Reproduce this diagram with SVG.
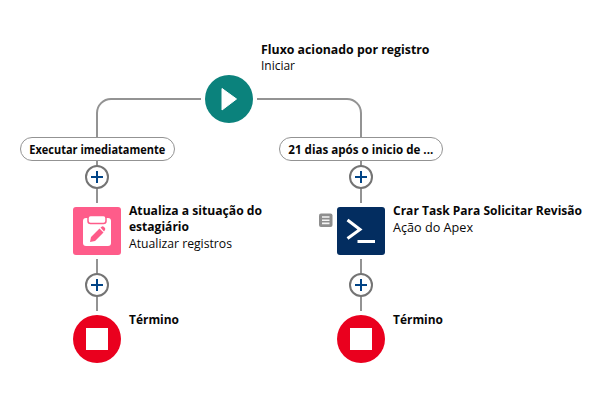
<svg xmlns="http://www.w3.org/2000/svg" width="613" height="406" viewBox="0 0 613 406">
<style>
text{font-family:"Open Sans","Noto Sans","Liberation Sans",sans-serif;font-size:12px;fill:#080707}
.b{font-weight:700}
.c{fill:none;stroke:#939393;stroke-width:2}
.pill{fill:#fff;stroke:#939393;stroke-width:1}
.plus{fill:#fff;stroke:#747474;stroke-width:2}
.pl{fill:none;stroke:#014486;stroke-width:2}
.end{fill:#ea001e}
</style>
<rect width="613" height="406" fill="#fff"/>
<g id="connectors">
<path class="c" d="M201 99H111A14 14 0 0 0 97 113V137"/>
<path class="c" d="M257 99H347A14 14 0 0 1 361 113V137"/>
<path class="c" d="M97 160V203"/>
<path class="c" d="M361 160V203"/>
<path class="c" d="M97 259V311"/>
<path class="c" d="M361 259V311"/>
</g>
<g id="start">
<circle cx="229" cy="99" r="24" fill="#0b827c"/>
<path d="M222 88.500L236.500 99L222 110Z" fill="#fff" stroke="#fff" stroke-width="1" stroke-linejoin="round"/>
<text class="b" x="261" y="54" textLength="168.500" lengthAdjust="spacingAndGlyphs">Fluxo acionado por registro</text>
<text x="261" y="70" textLength="34" lengthAdjust="spacingAndGlyphs">Iniciar</text>
</g>
<g id="pill-left">
<rect class="pill" x="20.500" y="137.500" width="154" height="23" rx="11.500"/>
<text class="b" x="29.300" y="153.500" textLength="136" lengthAdjust="spacingAndGlyphs">Executar imediatamente</text>
</g>
<g id="pill-right">
<rect class="pill" x="279.500" y="137.500" width="163" height="23" rx="11.500"/>
<text class="b" x="288.300" y="153.500" textLength="145" lengthAdjust="spacingAndGlyphs">21 dias após o inicio de ...</text>
</g>
<g id="add-1"><circle class="plus" cx="97" cy="177" r="11"/><path class="pl" d="M91 177H103M97 171V183"/></g>
<g id="add-2"><circle class="plus" cx="361" cy="177" r="11"/><path class="pl" d="M355 177H367M361 171V183"/></g>
<g id="update">
<rect x="73" y="207" width="48" height="48" rx="3" fill="#fe5c8a"/>
<path d="M86 218H108A3 3 0 0 1 111 221V243A3 3 0 0 1 108 246H86A3 3 0 0 1 83 243V221A3 3 0 0 1 86 218Z" fill="#fff"/>
<rect x="88" y="215.500" width="18" height="8" rx="2.500" fill="#fff" stroke="#fe5c8a" stroke-width="1.500"/>
<path d="M90 242L91 237L99.500 228.500L103.500 232.500L95 241Z M100.500 227.500L102 226.500Q103 226 104 227L105 228Q105.500 229 105 230L104 231.500Z" fill="#fe5c8a"/>
<text class="b" x="129" y="215" textLength="133" lengthAdjust="spacingAndGlyphs">Atualiza a situação do</text>
<text class="b" x="129" y="231" textLength="60" lengthAdjust="spacingAndGlyphs">estagiário</text>
<text x="129" y="248" textLength="103" lengthAdjust="spacingAndGlyphs">Atualizar registros</text>
</g>
<g id="apex">
<rect x="337" y="207" width="48" height="48" rx="3" fill="#032d60"/>
<path d="M347.500 220L360 229.500L347.500 238.500" fill="none" stroke="#fff" stroke-width="3"/>
<path d="M357.500 241.500H375" fill="none" stroke="#fff" stroke-width="3"/>
<rect x="319" y="213.500" width="13.500" height="13.500" rx="2" fill="#8e8e8e"/>
<path d="M322 217H329.500M322 220.200H329.500M322 223.400H329.500" stroke="#fff" stroke-width="1.600" fill="none" opacity="0.900"/>
<text class="b" x="393" y="215" textLength="189" lengthAdjust="spacingAndGlyphs">Crar Task Para Solicitar Revisão</text>
<text x="393" y="232" textLength="80" lengthAdjust="spacingAndGlyphs">Ação do Apex</text>
</g>
<g id="add-3"><circle class="plus" cx="97" cy="285" r="11"/><path class="pl" d="M91 285H103M97 279V291"/></g>
<g id="add-4"><circle class="plus" cx="361" cy="285" r="11"/><path class="pl" d="M355 285H367M361 279V291"/></g>
<g id="end-1">
<circle class="end" cx="97" cy="339" r="24"/><rect x="86" y="328" width="22" height="22" fill="#fff"/>
<text class="b" x="129" y="324" textLength="50" lengthAdjust="spacingAndGlyphs">Término</text>
</g>
<g id="end-2">
<circle class="end" cx="361" cy="339" r="24"/><rect x="350" y="328" width="22" height="22" fill="#fff"/>
<text class="b" x="393" y="324" textLength="50" lengthAdjust="spacingAndGlyphs">Término</text>
</g>
</svg>
